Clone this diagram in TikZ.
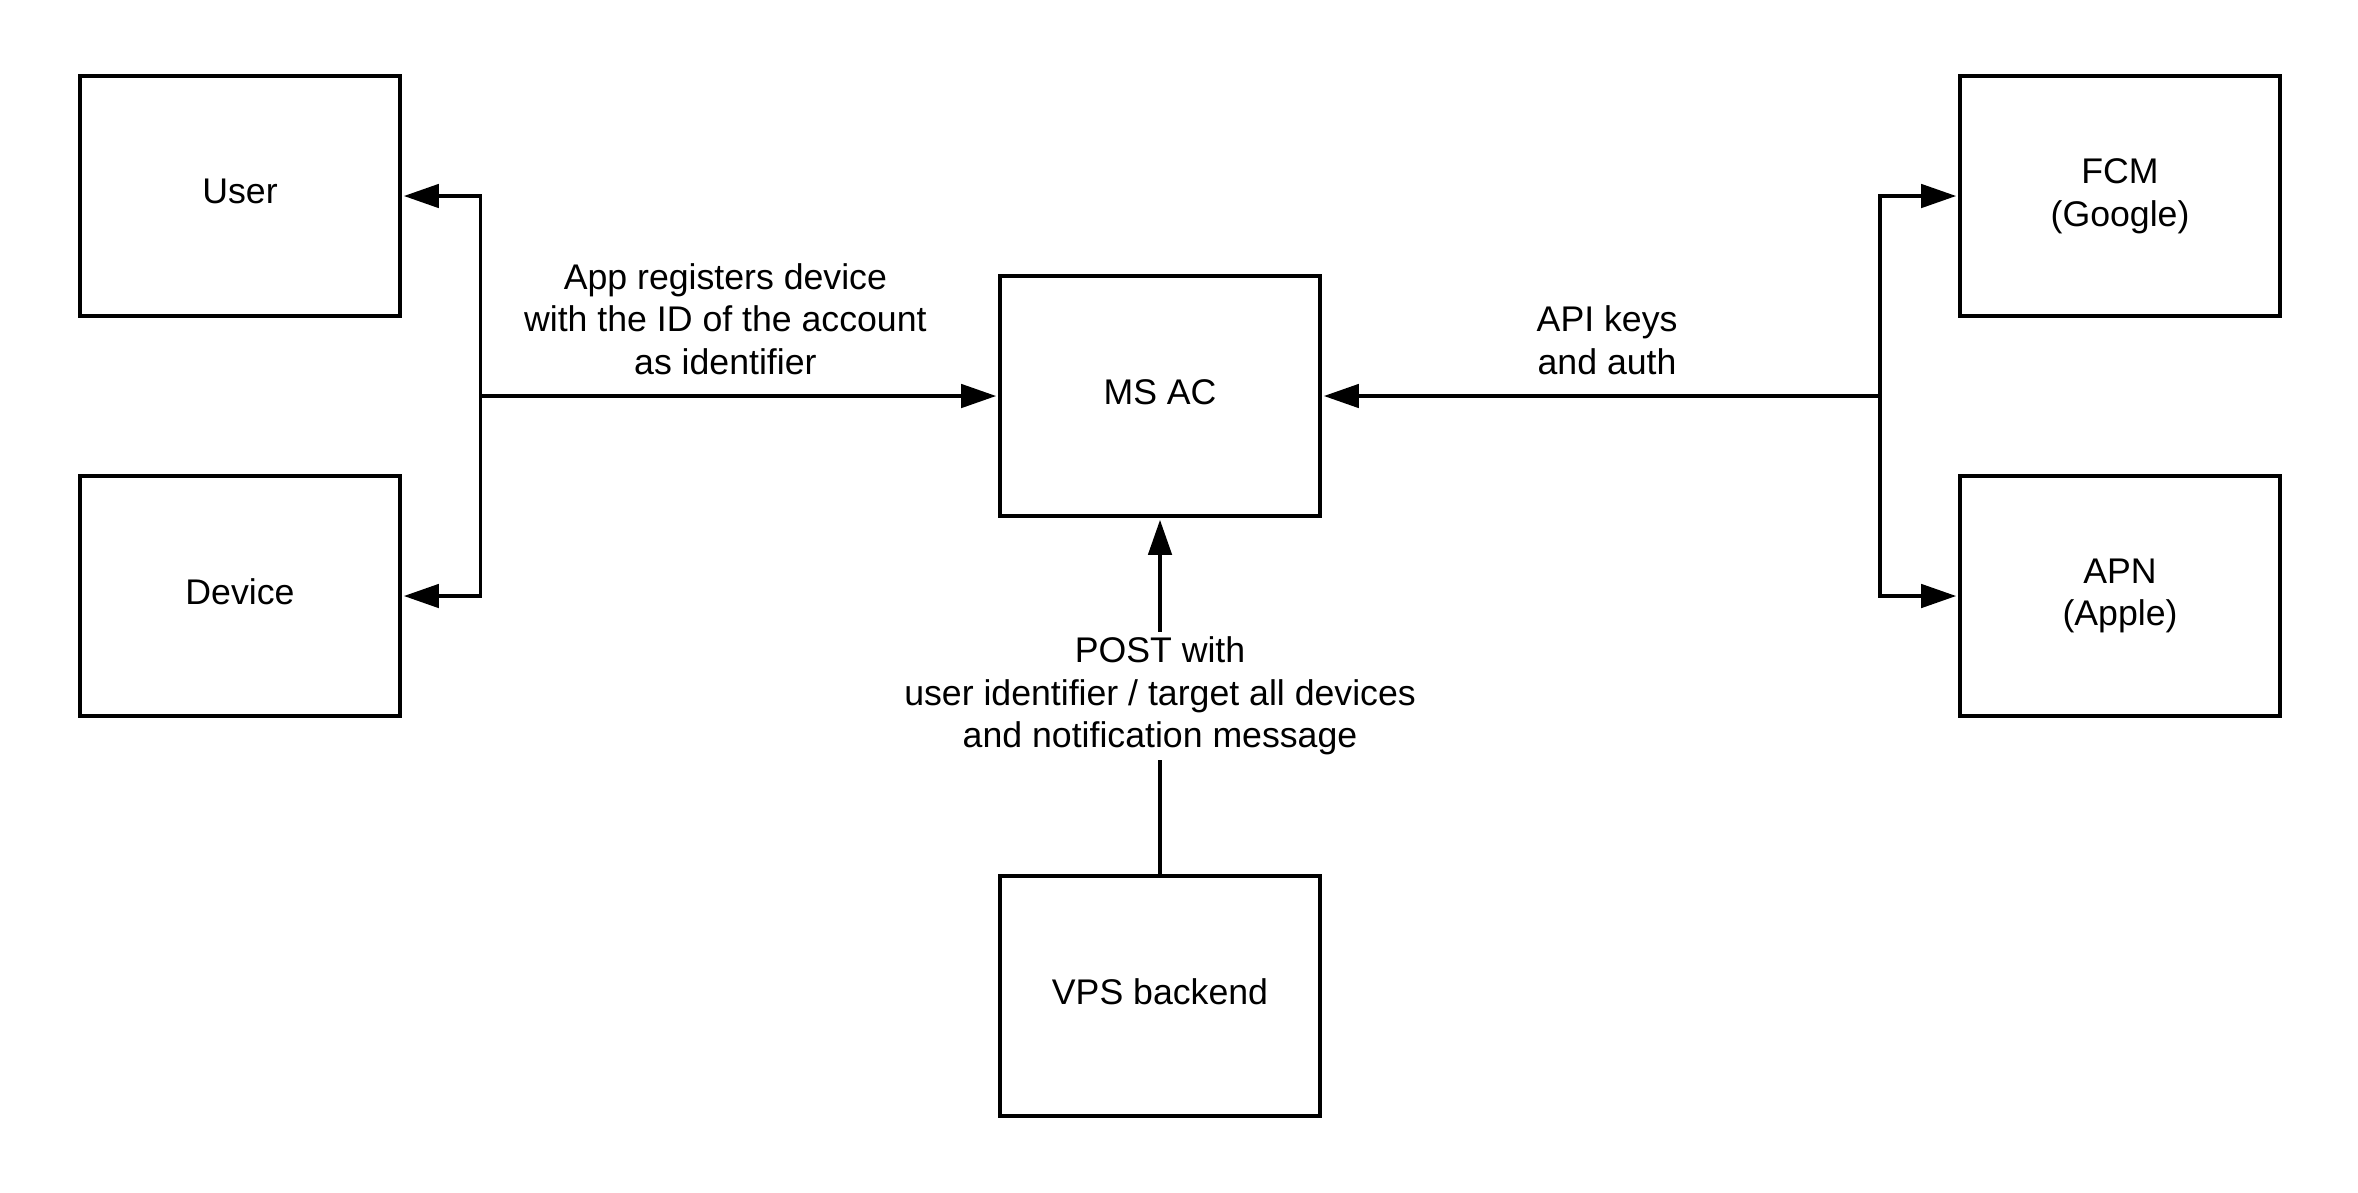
\documentclass[tikz,border=0pt]{standalone}
\usepackage{fontspec}
\setmainfont{Liberation Sans}
\usetikzlibrary{arrows.meta}
\tikzset{
  box/.style={draw=black, line width=1.1pt, minimum width=96pt, minimum height=72pt,
    inner sep=0pt, align=center, font=\fontsize{10.7}{12.75}\selectfont},
  onebox/.style={box, text depth=2.6pt},
  conn/.style={draw=black, line width=1.1pt},
  arr/.style={conn, -{Triangle[length=10.5pt,width=7pt]}, shorten >=0.6pt},
  lbl/.style={inner sep=0pt, align=center, font=\fontsize{10.7}{12.75}\selectfont}
}
\begin{document}
\begin{tikzpicture}[x=0.3pt, y=-0.3pt]
\useasboundingbox (0,0) rectangle (2358,1192);
\node[onebox] (user)   at (240,196)  {User};
\node[onebox] (device) at (240,596)  {Device};
\node[onebox] (msac)   at (1160,396) {MS AC};
\node[onebox] (vps)    at (1160,996) {VPS backend};
\node[box] (fcm)    at (2120,196) {FCM\\(Google)};
\node[box] (apn)    at (2120,596) {APN\\(Apple)};
\coordinate (jl) at (480.5,396);
\coordinate (jr) at (1880,396);
% left side
\draw[arr] (jl) |- (user.east);
\draw[arr] (jl) |- (device.east);
\draw[arr] (jl) -- node[lbl, above=5.9pt, pos=0.473] {App registers device\\with the ID of the account\\as identifier} (msac.west);
% right side
\draw[arr] (jr) |- (fcm.west);
\draw[arr] (jr) |- (apn.west);
\draw[arr] (jr) -- node[lbl, above=5.9pt, pos=0.489] {API keys\\and auth} (msac.east);
% bottom
\draw[arr] (vps.north) -- node[lbl, fill=white, inner xsep=2pt, inner ysep=1.6pt] {POST with\\user identifier / target all devices\\and notification message} (msac.south);
\end{tikzpicture}
\end{document}
